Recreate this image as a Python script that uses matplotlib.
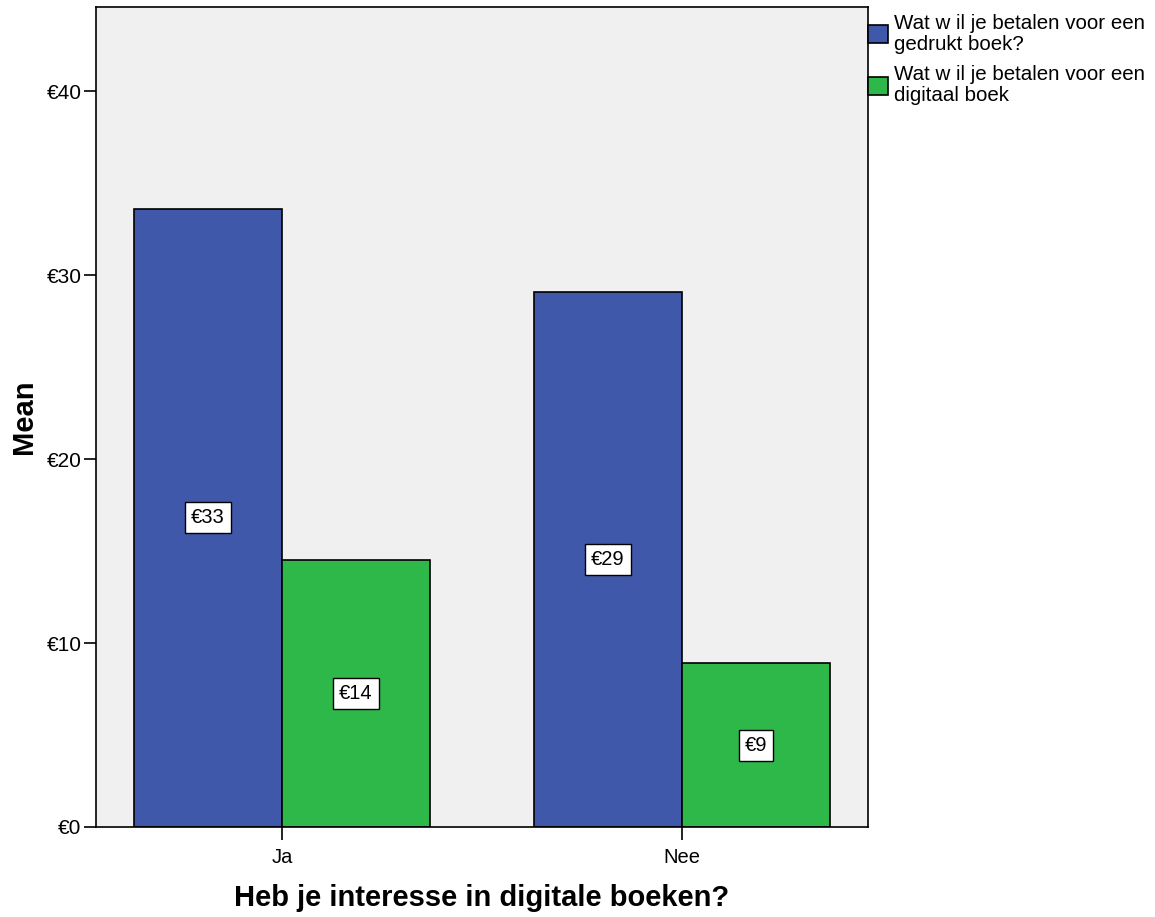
import matplotlib
matplotlib.use("Agg")
import matplotlib.pyplot as plt
import numpy as np

plt.rcParams['font.family'] = ['Liberation Sans', 'DejaVu Sans']

categories = ["Ja", "Nee"]
series_names = ["Wat w il je betalen voor een\ngedrukt boek?",
                "Wat w il je betalen voor een\ndigitaal boek"]
printed = [33.6, 29.1]
digital = [14.5, 8.9]
printed_labels = ["€33", "€29"]
digital_labels = ["€14", "€9"]
yticks = [0, 10, 20, 30, 40]
ytick_labels = ["€0", "€10", "€20", "€30", "€40"]

blue = "#3F58AA"
green = "#2FB84A"

fig = plt.figure(figsize=(11.55, 9.17), dpi=100)
ax = fig.add_axes([96/1155, 1-827/917, (868-96)/1155, (827-7)/917])
ax.set_facecolor("#F0F0F0")

x = np.arange(len(categories))
w = 0.37
b1 = ax.bar(x - w/2, printed, w, color=blue, edgecolor="black", linewidth=1.2, label=series_names[0], zorder=2)
b2 = ax.bar(x + w/2, digital, w, color=green, edgecolor="black", linewidth=1.2, label=series_names[1], zorder=2)

for bars, labs in ((b1, printed_labels), (b2, digital_labels)):
    for r, lab in zip(bars, labs):
        ax.text(r.get_x() + r.get_width()/2, r.get_height()/2, lab,
                ha="center", va="center", fontsize=14.5, zorder=3,
                bbox=dict(boxstyle="square,pad=0.3", facecolor="white", edgecolor="black", linewidth=1))

ax.set_xlim(-0.465, 1.465)
ax.set_ylim(0, 44.57)
ax.set_xticks(x)
ax.set_xticklabels(categories, fontsize=14.5)
ax.set_yticks(yticks)
ax.set_yticklabels(ytick_labels, fontsize=15)
ax.tick_params(axis="both", direction="out", length=9, width=1.2, pad=1.5)
ax.tick_params(axis="x", pad=6)
for s in ax.spines.values():
    s.set_linewidth(1.2)

ax.set_ylabel("Mean", fontsize=21, fontweight="bold", labelpad=6)
ax.set_xlabel("Heb je interesse in digitale boeken?", fontsize=21, fontweight="bold", labelpad=12)

leg = ax.legend(loc="upper left", bbox_to_anchor=(1.0, 0.992), frameon=False,
                fontsize=14.8, handlelength=0.95, handleheight=1.0, handletextpad=0.3,
                labelspacing=0.55, borderaxespad=0.0, borderpad=0.0)
for t in leg.get_texts():
    t.set_linespacing(1.15)

fig.savefig("out.png", dpi=100)
